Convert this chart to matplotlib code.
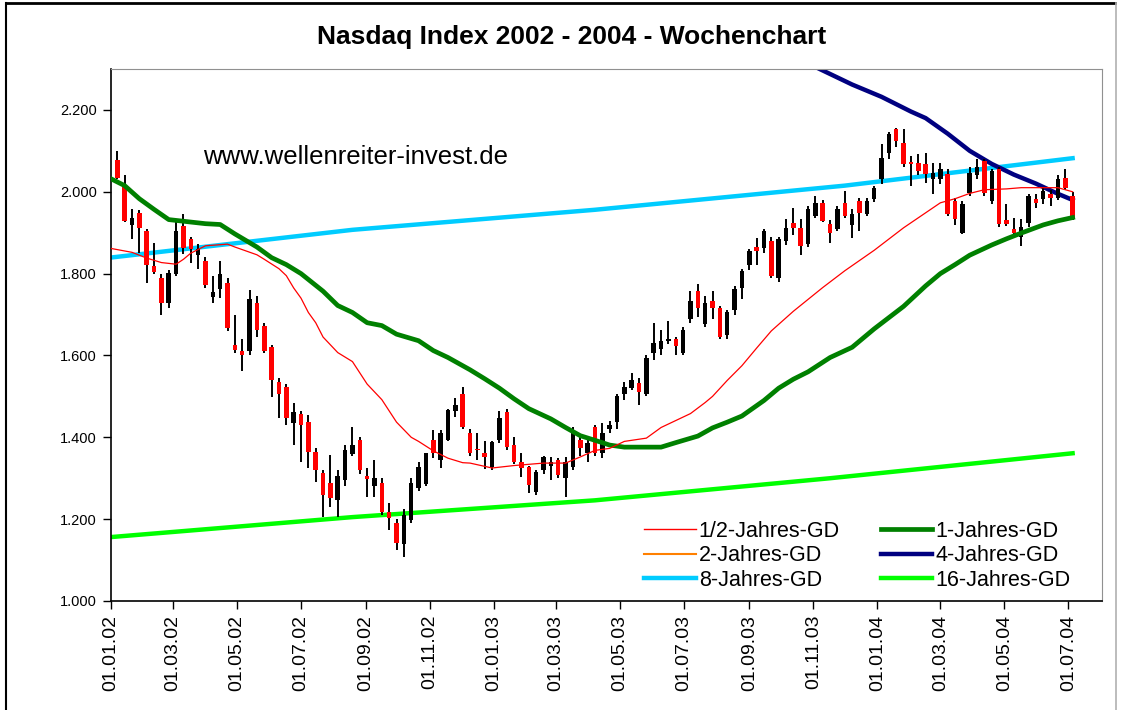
import numpy as np
import matplotlib.pyplot as plt
import matplotlib.dates as mdates
from matplotlib.lines import Line2D
from matplotlib.ticker import FuncFormatter

plt.rcParams['font.family'] = ['Liberation Sans', 'DejaVu Sans']

# weekly candles, week of 07.01.2002 ... week of 05.07.2004
first_week = np.datetime64('2002-01-07')
opens = [2078, 2015, 1920, 1949, 1905, 1818, 1790, 1729, 1800, 1917,
         1885, 1845, 1832, 1742, 1763, 1778, 1625, 1612, 1612, 1727,
         1673, 1620, 1534, 1522, 1434, 1458, 1437, 1363, 1312, 1288,
         1247, 1295, 1360, 1393, 1305, 1280, 1288, 1217, 1190, 1139,
         1198, 1276, 1285, 1393, 1345, 1393, 1465, 1507, 1410, 1372,
         1361, 1327, 1393, 1461, 1380, 1339, 1327, 1266, 1320, 1330,
         1344, 1300, 1327, 1393, 1361, 1424, 1361, 1420, 1437, 1507,
         1520, 1532, 1507, 1605, 1615, 1636, 1641, 1605, 1690, 1758,
         1678, 1734, 1715, 1649, 1710, 1766, 1820, 1865, 1863, 1880,
         1790, 1880, 1924, 1912, 1873, 1941, 1973, 1922, 1910, 1973,
         1920, 1978, 1946, 1983, 2032, 2095, 2153, 2119, 2073, 2071,
         2068, 2030, 2030, 2044, 1978, 1900, 1998, 2040, 2076, 1978,
         2056, 1930, 1910, 1890, 1924, 1983, 1983, 1995, 1985, 2034,
         1990]
highs = [2100, 2040, 1958, 1955, 1910, 1876, 1800, 1810, 1932, 1946,
         1890, 1873, 1840, 1795, 1832, 1790, 1698, 1640, 1761, 1745,
         1680, 1625, 1546, 1530, 1485, 1465, 1454, 1375, 1320, 1356,
         1320, 1380, 1426, 1400, 1324, 1344, 1300, 1239, 1200, 1225,
         1300, 1340, 1362, 1417, 1417, 1470, 1495, 1522, 1420, 1410,
         1390, 1390, 1465, 1470, 1400, 1361, 1330, 1320, 1355, 1351,
         1350, 1352, 1425, 1400, 1395, 1430, 1434, 1440, 1505, 1534,
         1556, 1545, 1600, 1680, 1661, 1685, 1644, 1670, 1758, 1775,
         1745, 1758, 1720, 1710, 1770, 1812, 1860, 1888, 1910, 1890,
         1890, 1934, 1960, 1934, 1965, 1990, 1980, 1930, 1965, 2002,
         1958, 1985, 1985, 2015, 2117, 2145, 2155, 2153, 2088, 2093,
         2095, 2071, 2071, 2055, 1985, 1978, 2060, 2080, 2080, 2055,
         2060, 1971, 1937, 1934, 1995, 1995, 2010, 2005, 2040, 2056,
         2000]
lows = [2030, 1925, 1885, 1851, 1776, 1800, 1698, 1715, 1795, 1849,
        1827, 1812, 1765, 1727, 1741, 1660, 1605, 1563, 1600, 1644,
        1605, 1498, 1446, 1430, 1380, 1339, 1324, 1290, 1205, 1230,
        1206, 1280, 1355, 1310, 1254, 1254, 1210, 1173, 1125, 1108,
        1190, 1270, 1280, 1350, 1324, 1390, 1449, 1420, 1355, 1344,
        1322, 1320, 1385, 1370, 1335, 1302, 1263, 1260, 1310, 1295,
        1300, 1254, 1320, 1355, 1340, 1355, 1350, 1410, 1420, 1490,
        1515, 1478, 1500, 1588, 1600, 1629, 1600, 1600, 1680, 1695,
        1670, 1690, 1640, 1640, 1700, 1739, 1810, 1820, 1850, 1790,
        1780, 1870, 1895, 1846, 1865, 1935, 1925, 1876, 1905, 1935,
        1888, 1905, 1940, 1975, 2020, 2080, 2110, 2060, 2015, 2040,
        2022, 1995, 2020, 1940, 1920, 1898, 1990, 2030, 1990, 1970,
        1915, 1917, 1888, 1868, 1915, 1960, 1970, 1966, 1980, 2005,
        1930]
closes = [2034, 1929, 1937, 1912, 1820, 1805, 1727, 1802, 1905, 1863,
          1861, 1860, 1771, 1754, 1800, 1666, 1614, 1600, 1739, 1661,
          1612, 1539, 1507, 1446, 1461, 1430, 1363, 1320, 1258, 1251,
          1306, 1368, 1380, 1320, 1298, 1300, 1217, 1202, 1141, 1210,
          1288, 1327, 1361, 1361, 1410, 1466, 1480, 1424, 1361, 1368,
          1351, 1388, 1446, 1376, 1339, 1324, 1283, 1315, 1351, 1340,
          1307, 1340, 1410, 1373, 1385, 1361, 1410, 1430, 1502, 1522,
          1540, 1510, 1595, 1630, 1635, 1641, 1624, 1661, 1734, 1715,
          1729, 1717, 1644, 1705, 1763, 1807, 1856, 1855, 1905, 1795,
          1885, 1912, 1912, 1868, 1958, 1973, 1929, 1900, 1958, 1941,
          1945, 1949, 1978, 2010, 2083, 2141, 2124, 2068, 2068, 2051,
          2044, 2045, 2055, 1946, 1934, 1970, 2046, 2060, 1998, 2051,
          1922, 1922, 1900, 1915, 1990, 1973, 2002, 1985, 2032, 2010,
          1937]

# moving averages, at week numbers (0 = week of 07.01.2002)
gd26_weeks = [-1, 2, 4, 6, 8, 9, 10, 12, 15, 16, 19, 20, 22, 23, 24, 25, 26, 27,
              28, 30, 32, 34, 36, 38, 40, 41, 43, 45, 47, 48, 51, 54, 58, 61, 63,
              65, 67, 69, 72, 74, 76, 78, 80, 81, 83, 85, 87, 89, 92, 94, 96, 99,
              103, 107, 112, 114, 116, 118, 121, 123, 126, 128, 130]
gd26 = [1862, 1852, 1838, 1827, 1823, 1835, 1850, 1868, 1872, 1865, 1846, 1835,
        1812, 1795, 1765, 1740, 1705, 1680, 1645, 1607, 1585, 1530, 1492, 1437,
        1400, 1390, 1367, 1349, 1338, 1337, 1325, 1331, 1337, 1337, 1352, 1368,
        1373, 1390, 1398, 1424, 1441, 1458, 1485, 1500, 1539, 1575, 1618, 1660,
        1708, 1737, 1766, 1807, 1857, 1912, 1973, 1983, 1996, 2005, 2007, 2010,
        2010, 2010, 2000]
gd52_weeks = [-1, 1, 3, 5, 7, 10, 12, 14, 16, 19, 21, 23, 25, 28, 30, 32, 34, 36,
              38, 41, 43, 45, 48, 50, 52, 54, 56, 59, 61, 63, 66, 67, 69, 74, 76,
              79, 81, 83, 85, 88, 90, 92, 94, 97, 100, 103, 107, 110, 112, 114,
              116, 119, 121, 123, 126, 128, 130]
gd52 = [2033, 2015, 1983, 1957, 1932, 1926, 1922, 1920, 1897, 1865, 1839, 1822,
        1800, 1757, 1722, 1705, 1680, 1673, 1652, 1636, 1612, 1595, 1565, 1543,
        1520, 1494, 1470, 1445, 1424, 1404, 1387, 1381, 1376, 1376, 1387, 1403,
        1423, 1437, 1452, 1490, 1520, 1542, 1560, 1595, 1620, 1665, 1720, 1770,
        1800, 1822, 1845, 1870, 1885, 1899, 1919, 1929, 1937]
gd208_weeks = [95, 100, 104, 108, 110, 113, 116, 119, 122, 125, 128, 130]
gd208 = [2305, 2262, 2232, 2196, 2180, 2142, 2100, 2068, 2042, 2020, 1995, 1980]
gd416_weeks = [-1, 32, 65, 99, 130]
gd416 = [1839, 1907, 1956, 2015, 2082]
gd832_weeks = [-1, 32, 65, 97, 130]
gd832 = [1156, 1205, 1246, 1300, 1361]

yticks = [1000, 1200, 1400, 1600, 1800, 2000, 2200]


def week_dates(k):
    return first_week + np.array(k) * np.timedelta64(7, 'D')


weeks = week_dates(np.arange(len(closes)))
o = np.array(opens)
c = np.array(closes)

fig = plt.figure(figsize=(11.22, 7.10), dpi=100)
ax = fig.add_axes([111 / 1122, 1 - 601 / 710, 991 / 1122, 532 / 710])

# wicks then bodies
ax.vlines(weeks, lows, highs, color='black', lw=1.4, zorder=3)
up = c >= o
body_lo = np.minimum(o, c)
body_h = np.maximum(np.abs(c - o), 4)
ax.bar(weeks[up], body_h[up], bottom=body_lo[up], width=4.3, color='black', zorder=4)
ax.bar(weeks[~up], body_h[~up], bottom=body_lo[~up], width=4.3, color='#ff0000', zorder=4)

ax.plot(week_dates(gd832_weeks), gd832, color='#00ff00', lw=3.2, zorder=2)
ax.plot(week_dates(gd416_weeks), gd416, color='#00ccff', lw=3.2, zorder=2)
ax.plot(week_dates(gd208_weeks), gd208, color='#000080', lw=3.2, zorder=2)
ax.plot(week_dates(gd52_weeks), gd52, color='#008000', lw=3.4, zorder=5)
ax.plot(week_dates(gd26_weeks), gd26, color='#ff0000', lw=0.9, zorder=5)

ax.set_xlim(np.datetime64('2002-01-01'), np.datetime64('2004-08-02'))
ax.set_ylim(1000, 2300)
ax.set_yticks(yticks)
ax.yaxis.set_major_formatter(FuncFormatter(lambda v, p: f'{v:,.0f}'.replace(',', '.')))
ax.xaxis.set_major_locator(mdates.MonthLocator(bymonth=[1, 3, 5, 7, 9, 11]))
ax.xaxis.set_major_formatter(mdates.DateFormatter('%d.%m.%y'))
ax.tick_params(axis='x', labelrotation=90, labelsize=14, length=6, width=1, pad=4)
ax.tick_params(axis='y', labelsize=10.5, length=6, width=1, pad=4)
for s in ['top', 'right']:
    ax.spines[s].set_color('#909090')
for s in ['left', 'bottom']:
    ax.spines[s].set_color('black')
    ax.spines[s].set_linewidth(1.2)

handles = [
    Line2D([], [], color='#ff0000', lw=1.0),
    Line2D([], [], color='#ff8000', lw=1.5),
    Line2D([], [], color='#00ccff', lw=3.2),
    Line2D([], [], color='#008000', lw=3.4),
    Line2D([], [], color='#000080', lw=3.2),
    Line2D([], [], color='#00ff00', lw=3.2),
]
labels = ['1/2-Jahres-GD', '2-Jahres-GD', '8-Jahres-GD',
          '1-Jahres-GD', '4-Jahres-GD', '16-Jahres-GD']
fig.legend(handles, labels, loc='upper left', bbox_to_anchor=(644 / 1122, 1 - 521 / 710),
           ncol=2, frameon=False, fontsize=15.5, handlelength=2.4, handletextpad=0.14,
           columnspacing=1.9, labelspacing=0.16, borderpad=0, borderaxespad=0)

fig.text(572 / 1122, 1 - 37 / 710, 'Nasdaq Index 2002 - 2004 - Wochenchart',
         ha='center', va='center', fontsize=19, fontweight='bold')
fig.text(203 / 1122, 1 - 157 / 710, 'www.wellenreiter-invest.de',
         ha='left', va='center', fontsize=18.5)

# outer frame of the picture
fig.add_artist(Line2D([6 / 1122, 1115 / 1122], [1 - 3 / 710, 1 - 3 / 710],
                      transform=fig.transFigure, color='black', lw=2))
fig.add_artist(Line2D([6 / 1122, 6 / 1122], [0, 1 - 3 / 710],
                      transform=fig.transFigure, color='black', lw=1.5))
fig.add_artist(Line2D([1116 / 1122, 1116 / 1122], [0, 1 - 3 / 710],
                      transform=fig.transFigure, color='#b0b0b0', lw=1.2))

fig.savefig('out.png', dpi=100)
